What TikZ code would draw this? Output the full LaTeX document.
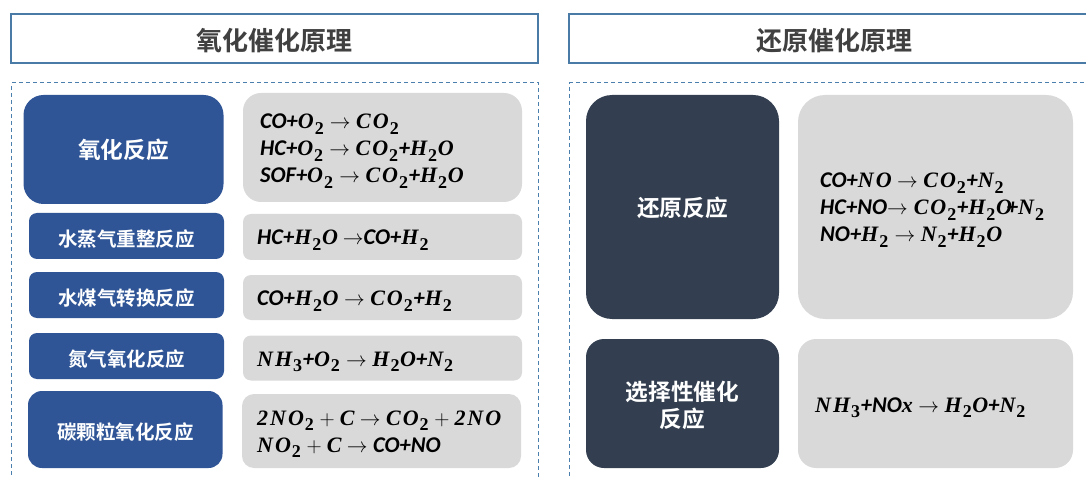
\documentclass[tikz,border=0pt]{standalone}
\usepackage{fontspec}
\newfontfamily\cjkb{Noto Sans CJK SC Bold}
\newfontfamily\calf{Carlito}
\newfontfamily\serf[LetterSpace=9]{Liberation Serif}
\newcommand{\fA}[1]{{\calf\bfseries\itshape\fontsize{22.5}{27}\selectfont #1}}
\newcommand{\fB}[1]{{\serf\bfseries\itshape\fontsize{22}{27}\selectfont #1}}
\newcommand{\fS}[1]{\kern1pt\raisebox{-0.25em}{\serf\bfseries\fontsize{18}{18}\selectfont #1}\kern0.7pt}
\newcommand{\fAr}{\kern5.5pt$\rightarrow$\kern5.5pt}
\newcommand{\dn}[2][2pt]{\raisebox{-#1}[\height][\depth]{#2}}
\definecolor{titleline}{HTML}{4A7BA6}
\definecolor{dashline}{HTML}{4A7FAE}
\definecolor{bluefill}{HTML}{2F5597}
\definecolor{darkfill}{HTML}{333F50}
\definecolor{grayfill}{HTML}{D9D9D9}
\definecolor{titletext}{HTML}{404040}
\tikzset{
  titlebox/.style={draw=titleline,line width=2pt,fill=white,inner sep=0,text=titletext,font=\cjkb\fontsize{26}{26}\selectfont},
  framebox/.style={draw=dashline,line width=1pt,dash pattern=on 4pt off 3pt},
  tagbox/.style={inner sep=0,text=white,align=center,font=\cjkb\fontsize{19.5}{26}\selectfont},
  bigtag/.style={font=\cjkb\fontsize{22.7}{27}\selectfont},
  bluebox/.style={tagbox,fill=bluefill},
  darkbox/.style={tagbox,fill=darkfill},
  greybox/.style={fill=grayfill,inner sep=0},
  formula/.style={anchor=west,inner sep=0,align=left,text=black,font=\fontsize{21}{27}\selectfont}
}
\newcommand{\boxat}[8]{\node[#1,rounded corners=#6,minimum width=#4-#2,minimum height=#5-#3] (#7) at ({(#2+#4)/2},{(#3+#5)/2}) {#8};}
\begin{document}
\begin{tikzpicture}[x=1pt,y=-1pt]
\useasboundingbox (0,0) rectangle (1086,478);
\clip (0,0) rectangle (1086,478);
% titles
\boxat{titlebox}{10.5}{14}{538}{63}{0pt}{tl}{\dn[2pt]{氧化催化原理}}
\boxat{titlebox}{568.5}{14}{1100}{63}{0pt}{tr}{\dn[2pt]{还原催化原理}}
% dashed frames
\node[framebox,minimum width=527pt,minimum height=420pt,inner sep=0,anchor=north west] (fl) at (11,82.5) {};
\node[framebox,minimum width=530pt,minimum height=420pt,inner sep=0,anchor=north west] (fr) at (569,82.5) {};
% left tags
\boxat{bluebox,bigtag}{23.5}{95}{223.5}{204}{20pt}{b1}{氧化反应}
\boxat{bluebox}{29}{213}{224}{259}{8pt}{b2}{\dn[3pt]{水蒸气重整反应}}
\boxat{bluebox}{29}{272}{224}{318}{8pt}{b3}{\dn[3pt]{水煤气转换反应}}
\boxat{bluebox}{29}{333}{224}{379}{8pt}{b4}{\dn[3pt]{氮气氧化反应}}
\boxat{bluebox}{28}{391}{222.5}{468}{14pt}{b5}{\dn[3pt]{碳颗粒氧化反应}}
% left formula panels
\boxat{greybox}{243}{93}{522}{202}{18pt}{g1}{}
\boxat{greybox}{243}{214}{522}{260}{8pt}{g2}{}
\boxat{greybox}{243}{275}{522}{320}{8pt}{g3}{}
\boxat{greybox}{243}{335.5}{522}{380.5}{8pt}{g4}{}
\boxat{greybox}{242}{394}{521}{468}{12pt}{g5}{}
\node[formula] (f1) at (260,151) {\fA{CO+}\fB{O}\fS{2}\fAr\fB{CO}\fS{2}\\
\fA{HC+}\fB{O}\fS{2}\fAr\fB{CO}\fS{2}\fA{+}\fB{H}\fS{2}\fB{O}\\
\fA{SOF+}\fB{O}\fS{2}\fAr\fB{CO}\fS{2}\fA{+}\fB{H}\fS{2}\fB{O}};
\node[formula] (f2) at (257,240) {\fA{HC+}\fB{H}\fS{2}\fB{O}\kern5pt$\rightarrow$\fA{CO+}\fB{H}\fS{2}};
\node[formula] (f3) at (257,301) {\fA{CO+}\fB{H}\fS{2}\fB{O}\fAr\fB{CO}\fS{2}\fA{+}\fB{H}\fS{2}};
\node[formula] (f4) at (257,362) {\fB{NH}\fS{3}\fA{+}\fB{O}\fS{2}\fAr\fB{H}\fS{2}\fB{O}\fA{+}\fB{N}\fS{2}};
\node[formula] (f5) at (257,434) {\fB{2NO}\fS{2}\kern5pt+\kern5pt\fB{C}\fAr\fB{CO}\fS{2}\kern5pt+\kern5pt\fB{2NO}\\
\fB{NO}\fS{2}\kern5pt+\kern5pt\fB{C}\fAr\fA{CO+NO}};
% right tags
\boxat{darkbox,bigtag}{586}{95}{779}{319}{26pt}{d1}{\dn[1pt]{还原反应}}
\boxat{darkbox,bigtag}{586}{339}{779}{468}{18pt}{d2}{\dn[2pt]{选择性催化}\\\dn[2pt]{反应}}
\boxat{greybox}{798}{95}{1073}{319}{27pt}{g6}{}
\boxat{greybox}{798}{339}{1073}{468}{18pt}{g7}{}
\node[formula] (f6) at (820,210) {\fA{CO+}\fB{NO}\fAr\fB{CO}\fS{2}\fA{+}\fB{N}\fS{2}\\
\fA{HC+NO}$\rightarrow$\kern6pt\fB{CO}\fS{2}\fA{+}\fB{H}\fS{2}\fB{O}\kern-5pt\fA{+}\fB{N}\fS{2}\\
\fA{NO+}\fB{H}\fS{2}\fAr\fB{N}\fS{2}\fA{+}\fB{H}\fS{2}\fB{O}};
\node[formula] (f7) at (815,408) {\fB{NH}\fS{3}\fA{+NO}\fB{x}\fAr\fB{H}\fS{2}\fB{O}\fA{+}\fB{N}\fS{2}};
\end{tikzpicture}
\end{document}
